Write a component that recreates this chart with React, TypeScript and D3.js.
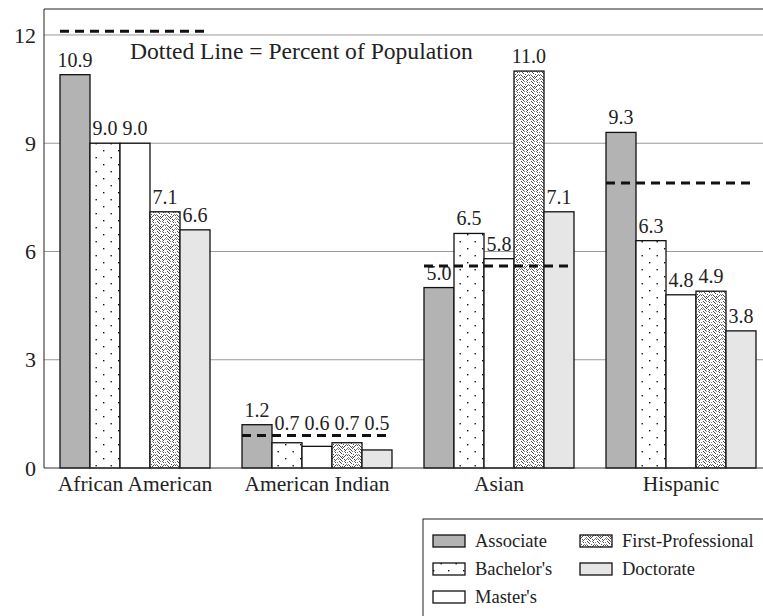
import * as d3 from "d3"

// data
const groups = ["African American", "American Indian", "Asian", "Hispanic"]
const degrees = ["Associate", "Bachelor's", "Master's", "First-Professional", "Doctorate"]
const associate = [10.9, 1.2, 5.0, 9.3]
const bachelors = [9.0, 0.7, 6.5, 6.3]
const masters = [9.0, 0.6, 5.8, 4.8]
const firstProf = [7.1, 0.7, 11.0, 4.9]
const doctorate = [6.6, 0.5, 7.1, 3.8]
const population = [12.1, 0.9, 5.6, 7.9]
const yTicks = [0, 3, 6, 9, 12]

const series = [associate, bachelors, masters, firstProf, doctorate]
const fills = ["#b3b3b3", "url(#dots)", "#ffffff", "url(#stipple)", "#e6e6e6"]

// speckle tile for the first-professional texture (hand placed)
const speckle = [
  [0, 1], [3, 0], [7, 1], [5, 2], [9, 3], [1, 4], [4, 4], [7, 5], [2, 6], [6, 7],
  [9, 7], [0, 8], [4, 9], [8, 9], [3, 2], [6, 4], [1, 7], [8, 6], [5, 8], [2, 9],
  [9, 0], [6, 9], [3, 5], [0, 6], [2, 1], [8, 2], [5, 5], [7, 8],
]

const W = 763
const H = 616
const left = 44
const top = 9
const right = 772
const bottom = 468
const FONT = "Liberation Serif"

type TProps = { x: number; y: number; size: number; anchor?: string; dy?: string; children: any }
function Label({ x, y, size, anchor = "start", dy, children }: TProps) {
  return (
    <text
      x={x}
      y={y}
      dy={dy}
      textAnchor={anchor}
      fontSize={size}
      fontFamily={FONT}
      fill="#222"
      style={{ fontFamily: `"${FONT}"` }}
    >
      {children}
    </text>
  )
}

export default function App() {
  const x = d3.scaleBand<string>().domain(groups).range([left, right]).paddingInner(0.1758).paddingOuter(0.0879)
  const xi = d3.scaleBand<string>().domain(degrees).range([0, x.bandwidth()])
  const y = d3.scaleLinear().domain([0, 12.72]).range([bottom, top])

  // lift a value label over the dashed line when the line would cut through it
  const labelY = (v: number, pop: number) => {
    const base = y(v) - 8
    const dash = y(pop)
    if (v < pop && dash > base - 12 && dash < base + 2) return dash - 6
    return base
  }

  const legendRows = [
    { name: "Associate", col: 0, row: 0 },
    { name: "Bachelor's", col: 0, row: 1 },
    { name: "Master's", col: 0, row: 2 },
    { name: "First-Professional", col: 1, row: 0 },
    { name: "Doctorate", col: 1, row: 1 },
  ]

  return (
    <svg width={W} height={H} fontFamily={FONT} style={{ position: "fixed", left: 0, top: 0, background: "#fff" }}>
      <defs>
        <pattern id="dots" patternUnits="userSpaceOnUse" width={15} height={14}>
          <rect width={15} height={14} fill="#fff" />
          <rect x={5.5} y={3} width={1.4} height={1.4} fill="#111" />
          <rect x={13} y={10} width={1.4} height={1.4} fill="#111" />
        </pattern>
        <pattern id="stipple" patternUnits="userSpaceOnUse" width={10} height={10}>
          <rect width={10} height={10} fill="#fff" />
          {speckle.map(([a, b], i) => (
            <rect key={i} x={a} y={b} width={0.9} height={0.9} fill={i % 3 === 0 ? "#666" : "#222"} />
          ))}
        </pattern>
      </defs>

      {/* gridlines */}
      {yTicks.filter((t) => t > 0).map((t) => (
        <line key={t} x1={left} x2={W + 20} y1={y(t)} y2={y(t)} stroke="#9a9a9a" strokeWidth={1} />
      ))}

      {/* frame */}
      <line x1={left} x2={W + 20} y1={top} y2={top} stroke="#222" strokeWidth={1} />
      <line x1={left} x2={left} y1={top} y2={bottom} stroke="#222" strokeWidth={1} />

      {/* y tick labels */}
      {yTicks.map((t) => (
        <Label key={t} x={36} y={y(t)} dy="0.35em" anchor="end" size={22}>
          {t}
        </Label>
      ))}

      {/* bars */}
      {groups.map((g, gi) => (
        <g key={g} transform={`translate(${x(g)},0)`}>
          {degrees.map((d, di) => {
            const v = series[di][gi]
            return (
              <g key={d}>
                <rect
                  x={xi(d)}
                  y={y(v)}
                  width={xi.bandwidth()}
                  height={bottom - y(v)}
                  fill={fills[di]}
                  stroke="#111"
                  strokeWidth={1.3}
                />
                <Label x={(xi(d) || 0) + xi.bandwidth() / 2} y={labelY(v, population[gi])} anchor="middle" size={20}>
                  {v.toFixed(1)}
                </Label>
              </g>
            )
          })}
          <line
            x1={0}
            x2={x.bandwidth()}
            y1={y(population[gi])}
            y2={y(population[gi])}
            stroke="#111"
            strokeWidth={3}
            strokeDasharray="9,6"
          />
          <Label x={x.bandwidth() / 2} y={bottom + 23} anchor="middle" size={21.5}>
            {g}
          </Label>
        </g>
      ))}

      {/* x axis */}
      <line x1={left} x2={W + 20} y1={bottom} y2={bottom} stroke="#333" strokeWidth={1.2} />

      <Label x={130} y={59} size={23.6}>
        Dotted Line = Percent of Population
      </Label>

      {/* legend */}
      <rect x={423} y={519} width={400} height={120} fill="#fff" stroke="#222" strokeWidth={1} />
      {legendRows.map((r) => {
        const sx = r.col === 0 ? 433 : 580
        const sy = 535 + r.row * 28
        const di = degrees.indexOf(r.name)
        return (
          <g key={r.name}>
            <rect x={sx} y={sy} width={32} height={12} fill={fills[di]} stroke="#111" strokeWidth={1.3} />
            <Label x={sx + 42} y={sy + 12} size={18.5}>
              {r.name}
            </Label>
          </g>
        )
      })}
    </svg>
  )
}
